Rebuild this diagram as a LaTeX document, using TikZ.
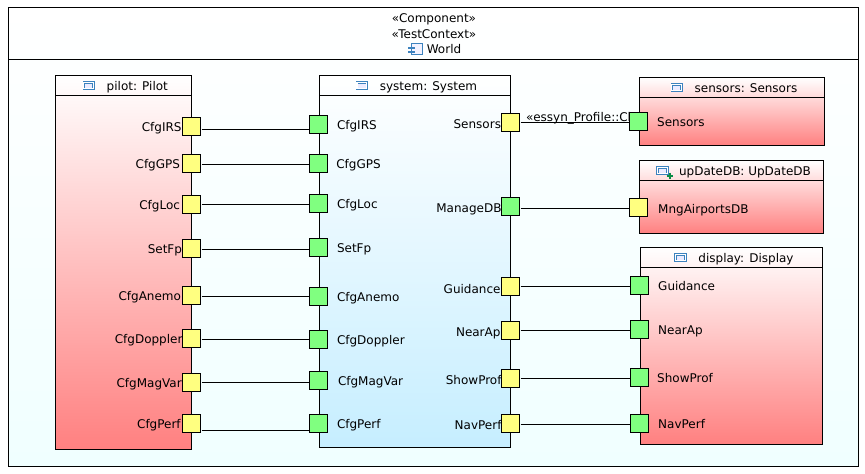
\documentclass[tikz,border=0pt]{standalone}
\usepackage{fontspec}
\setmainfont{DejaVu Sans}
\usepackage{xcolor}
\usepackage{tikz}
\usetikzlibrary{positioning, backgrounds}
\definecolor{portyellow}{RGB}{255, 255, 128}
\definecolor{portgreen}{RGB}{128, 255, 128}
\definecolor{partred}{RGB}{255, 128, 128}
\definecolor{partblue}{RGB}{198, 238, 255}
\definecolor{worldcyan}{RGB}{240, 255, 255}
\definecolor{iconblue}{RGB}{60, 130, 190}
\definecolor{plusgreen}{RGB}{10, 140, 70}
\pgfdeclarelayer{labels}
\pgfsetlayers{background,labels,main}
\tikzset{
  frame/.style={line width=1.1pt, draw=black},
  partbox/.style={rectangle, frame, anchor=north west, outer sep=0pt, inner sep=0pt},
  redpart/.style={partbox, top color=white, bottom color=partred},
  bluepart/.style={partbox, top color=white, bottom color=partblue},
  portbox/.style={rectangle, frame, minimum size=18pt, inner sep=0pt, outer sep=0pt},
  yport/.style={portbox, fill=portyellow},
  gport/.style={portbox, fill=portgreen},
  lbl/.style={inner sep=0pt, outer sep=0pt, font=\fontsize{12}{14}\selectfont, text height=9pt, text depth=0pt},
  conn/.style={line width=1.1pt, draw=black, shorten <=1pt},
  particon/.style={rectangle, draw=iconblue, line width=0.7pt, double=white, double distance=1.1pt, fill=blue!8, minimum width=9.9pt, minimum height=6.2pt, inner sep=0pt, outer sep=1pt},
  compicon/.style={rectangle, draw=iconblue, line width=0.8pt, fill=blue!5, minimum width=11pt, minimum height=11pt, inner sep=0pt},
  plusmark/.style={draw=plusgreen, line width=2pt},
}

\begin{document}
\begin{tikzpicture}[x=1pt, y=-1pt]
\useasboundingbox (0,0) rectangle (865,474);

\begin{pgfonlayer}{background}
% outer component
\node[partbox, top color=white, bottom color=worldcyan, minimum width=850pt, minimum height=459pt] (world) at (8.5,7.5) {};
\draw[frame] ([yshift=-52pt]world.north west) -- ([yshift=-52pt]world.north east);
\node[lbl] (stereoComp) at (434,17.5) {«Component»};
\node[lbl, below=7pt of stereoComp] (stereoTest) {«TestContext»};
\node[lbl, below=6.5pt of stereoTest, xshift=10pt] (worldName) {World};
\node[compicon, left=4.5pt of worldName] (worldIcon) {};
\fill[iconblue] ([xshift=-3pt,yshift=2.5pt]worldIcon.west) rectangle +(7,2.2);
\fill[iconblue] ([xshift=-3pt,yshift=-1.8pt]worldIcon.west) rectangle +(7,2.2);

% parts
\node[redpart, minimum width=136pt, minimum height=374pt] (pilot) at (55.5,75.5) {};
\node[bluepart, minimum width=191pt, minimum height=372pt] (system) at (319.5,75.5) {};
\node[redpart, minimum width=185pt, minimum height=68pt] (sensors) at (639.5,77.5) {};
\node[redpart, minimum width=184pt, minimum height=73pt] (upDateDB) at (639.5,160.5) {};
\node[redpart, minimum width=182pt, minimum height=197pt] (display) at (640.5,247.5) {};

\draw[frame] ([yshift=-20pt]pilot.north west) -- ([yshift=-20pt]pilot.north east);
\draw[frame] ([yshift=-20pt]system.north west) -- ([yshift=-20pt]system.north east);
\draw[frame] ([yshift=-20pt]sensors.north west) -- ([yshift=-20pt]sensors.north east);
\draw[frame] ([yshift=-20pt]upDateDB.north west) -- ([yshift=-20pt]upDateDB.north east);
\draw[frame] ([yshift=-20pt]display.north west) -- ([yshift=-20pt]display.north east);

% titles
\node[lbl] (pilotTitle) at (137.3,85.8) {pilot: Pilot};
\node[particon, left=12pt of pilotTitle] (pilotIcon) {};
\node[lbl] (systemTitle) at (428.5,85.8) {system: System};
\node[particon, left=12pt of systemTitle] (systemIcon) {};
\node[lbl] (sensorsTitle) at (746,87.8) {sensors: Sensors};
\node[particon, left=12pt of sensorsTitle] (sensorsIcon) {};
\node[lbl] (upDateTitle) at (745,170.8) {upDateDB: UpDateDB};
\node[particon, left=10.5pt of upDateTitle] (upDateIcon) {};
\node[lbl] (displayTitle) at (746,257.8) {display: Display};
\node[particon, left=12pt of displayTitle] (displayIcon) {};
\coordinate (upDatePlus) at ([xshift=1pt,yshift=-1pt]upDateIcon.south east);
\draw[plusmark] (upDatePlus) +(-3,0) -- +(3,0) (upDatePlus) +(0,-3) -- +(0,3);
\end{pgfonlayer}

% ports of pilot
\node[yport] (pilotIRS) at (191.5,126.5) {};
\node[yport] (pilotGPS) at (191.5,163.5) {};
\node[yport] (pilotLoc) at (191.5,204.5) {};
\node[yport] (pilotFp) at (191.5,248.5) {};
\node[yport] (pilotAnemo) at (191.5,295.5) {};
\node[yport] (pilotDoppler) at (191.5,338.5) {};
\node[yport] (pilotMagVar) at (191.5,382.5) {};
\node[yport] (pilotPerf) at (191.5,423.5) {};

% ports of system
\node[gport] (sysIRS) at (318.5,124.5) {};
\node[gport] (sysGPS) at (318.5,163.5) {};
\node[gport] (sysLoc) at (318.5,203.5) {};
\node[gport] (sysFp) at (318.5,247.5) {};
\node[gport] (sysAnemo) at (318.5,296.5) {};
\node[gport] (sysDoppler) at (318.5,339.5) {};
\node[gport] (sysMagVar) at (318.5,380.5) {};
\node[gport] (sysPerf) at (318.5,423.5) {};
\node[yport] (sysSensors) at (510.5,122.5) {};
\node[gport] (sysManageDB) at (510.5,206.5) {};
\node[yport] (sysGuidance) at (510.5,286.5) {};
\node[yport] (sysNearAp) at (510.5,330.5) {};
\node[yport] (sysShowProf) at (510.5,378.5) {};
\node[yport] (sysNavPerf) at (510.5,423.5) {};

% ports on the right
\node[gport] (sensorsIn) at (638.5,121.5) {};
\node[yport] (updateMng) at (638.5,207.5) {};
\node[gport] (dispGuidance) at (639.5,285.5) {};
\node[gport] (dispNearAp) at (639.5,329.5) {};
\node[gport] (dispShowProf) at (639.5,377.5) {};
\node[gport] (dispNavPerf) at (639.5,423.5) {};

\begin{pgfonlayer}{labels}
\node[lbl, left=1pt of pilotIRS] (lblPilotIRS) {CfgIRS};
\node[lbl, left=2.5pt of pilotGPS] (lblPilotGPS) {CfgGPS};
\node[lbl, left=2.5pt of pilotLoc] (lblPilotLoc) {CfgLoc};
\node[lbl, left=0.5pt of pilotFp] (lblPilotFp) {SetFp};
\node[lbl, left=1.5pt of pilotAnemo] (lblPilotAnemo) {CfgAnemo};
\node[lbl, left=0pt of pilotDoppler] (lblPilotDoppler) {CfgDoppler};
\node[lbl, left=0.8pt of pilotMagVar] (lblPilotMagVar) {CfgMagVar};
\node[lbl, left=1.8pt of pilotPerf] (lblPilotPerf) {CfgPerf};

\node[lbl, right=9.5pt of sysIRS] (lblSysIRS) {CfgIRS};
\node[lbl, right=8.8pt of sysGPS] (lblSysGPS) {CfgGPS};
\node[lbl, right=9.5pt of sysLoc] (lblSysLoc) {CfgLoc};
\node[lbl, right=9.5pt of sysFp] (lblSysFp) {SetFp};
\node[lbl, right=9.5pt of sysAnemo] (lblSysAnemo) {CfgAnemo};
\node[lbl, right=9.5pt of sysDoppler] (lblSysDoppler) {CfgDoppler};
\node[lbl, right=10.5pt of sysMagVar] (lblSysMagVar) {CfgMagVar};
\node[lbl, right=9.5pt of sysPerf] (lblSysPerf) {CfgPerf};

\node[lbl, left=0.5pt of sysSensors, yshift=-1.5pt] (lblSysSensors) {Sensors};
\node[lbl, left=0pt of sysManageDB, yshift=-1pt] (lblSysManageDB) {ManageDB};
\node[lbl, left=1pt of sysGuidance, yshift=-2pt] (lblSysGuidance) {Guidance};
\node[lbl, left=1pt of sysNearAp, yshift=-1pt] (lblSysNearAp) {NearAp};
\node[lbl, left=0pt of sysShowProf, yshift=-1pt] (lblSysShowProf) {ShowProf};
\node[lbl, left=0pt of sysNavPerf, yshift=-1pt] (lblSysNavPerf) {NavPerf};

\node[lbl, right=9.7pt of sensorsIn] (lblSensorsIn) {Sensors};
\node[lbl, right=10.7pt of updateMng, yshift=-1pt] (lblUpdateMng) {MngAirportsDB};
\node[lbl, right=9.7pt of dispGuidance] (lblDispGuidance) {Guidance};
\node[lbl, right=9.7pt of dispNearAp] (lblDispNearAp) {NearAp};
\node[lbl, right=8.7pt of dispShowProf] (lblDispShowProf) {ShowProf};
\node[lbl, right=9.7pt of dispNavPerf] (lblDispNavPerf) {NavPerf};

\node[lbl, right=6.5pt of sysSensors, yshift=5.5pt] (lblClient) {«essyn\_Profile::Cl};

% connectors
\draw[conn] ([yshift=-3pt]pilotIRS.east) -- ([yshift=-5pt]sysIRS.west);
\draw[conn] ([yshift=-1pt]pilotGPS.east) -- ([yshift=-1pt]sysGPS.west);
\draw[conn] (pilotLoc.east) -- ([yshift=-1pt]sysLoc.west);
\draw[conn] ([yshift=-1pt]pilotFp.east) -- ([yshift=-2pt]sysFp.west);
\draw[conn] ([yshift=-1pt]pilotAnemo.east) -- (sysAnemo.west);
\draw[conn] ([yshift=-1pt]pilotDoppler.east) -- (sysDoppler.west);
\draw[conn] (pilotMagVar.east) -- ([yshift=-2pt]sysMagVar.west);
\draw[conn] ([yshift=-7pt]pilotPerf.east) -- ([yshift=-7pt]sysPerf.west);
\draw[conn] (sysSensors.east) -- ([yshift=-1pt]sensorsIn.west);
\draw[conn] ([yshift=-2pt]sysManageDB.east) -- ([yshift=-1pt]updateMng.west);
\draw[conn] (sysGuidance.east) -- ([yshift=-1pt]dispGuidance.west);
\draw[conn] (sysNearAp.east) -- ([yshift=-1pt]dispNearAp.west);
\draw[conn] (sysShowProf.east) -- ([yshift=-1pt]dispShowProf.west);
\draw[conn] ([yshift=-1pt]sysNavPerf.east) -- ([yshift=-1pt]dispNavPerf.west);
\end{pgfonlayer}

\end{tikzpicture}
\end{document}
